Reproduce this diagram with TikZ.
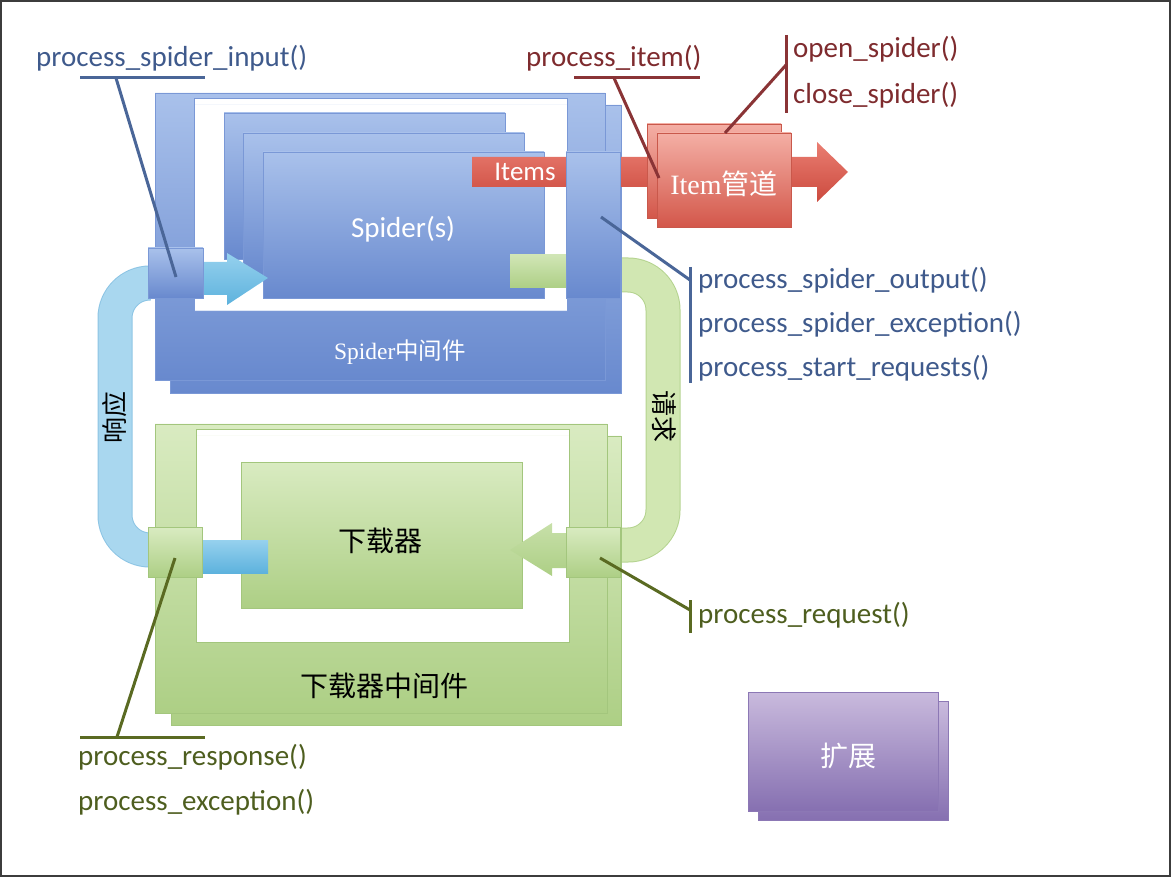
\documentclass[tikz,border=0pt]{standalone}
\usepackage{fontspec}
\setmainfont{Carlito}
\newfontfamily\serif{Liberation Serif}
\newfontfamily\cjk{Noto Sans CJK SC}
\usetikzlibrary{calc}
\definecolor{bTop}{HTML}{A9C1EB}
\definecolor{bBot}{HTML}{6889CE}
\definecolor{bEdge}{HTML}{7A98D6}
\definecolor{gTop}{HTML}{D9EBC1}
\definecolor{gBot}{HTML}{ADCF85}
\definecolor{gEdge}{HTML}{A3C67D}
\definecolor{rTop}{HTML}{F4AFA5}
\definecolor{rBot}{HTML}{D3574A}
\definecolor{rEdge}{HTML}{C9584B}
\definecolor{iTop}{HTML}{EA7E72}
\definecolor{iBot}{HTML}{CC4A3E}
\definecolor{pTop}{HTML}{C9BADD}
\definecolor{pBot}{HTML}{8670B1}
\definecolor{pEdge}{HTML}{8C78B5}
\definecolor{lbTop}{HTML}{96D1EE}
\definecolor{lbBot}{HTML}{5DB2DD}
\definecolor{band}{HTML}{A9D7EF}
\definecolor{bandEdge}{HTML}{8CC4E4}
\definecolor{gband}{HTML}{D1E7B2}
\definecolor{gbandEdge}{HTML}{B4D38F}
\definecolor{tBlue}{HTML}{3F5A8C}
\definecolor{tRed}{HTML}{7E2B2E}
\definecolor{tGreen}{HTML}{4E5E1F}
\definecolor{lBlue}{HTML}{4A6698}
\definecolor{lRed}{HTML}{8A3436}
\definecolor{lGreen}{HTML}{5A6A22}
\definecolor{frameC}{HTML}{3C3C3C}
\tikzset{
  box/.style={anchor=north west, inner sep=0pt, outer sep=0pt},
  bluebox/.style={top color=bTop, bottom color=bBot, draw=bEdge, line width=0.8pt},
  greenbox/.style={top color=gTop, bottom color=gBot, draw=gEdge, line width=0.8pt},
  redbox/.style={top color=rTop, bottom color=rBot, draw=rEdge, line width=0.8pt},
  purplebox/.style={top color=pTop, bottom color=pBot, draw=pEdge, line width=0.8pt},
  lbl/.style={anchor=base west, inner sep=0pt, font=\fontsize{29}{34}\selectfont},
  whitetxt/.style={text=white, inner sep=0pt},
  cjktxt/.style={inner sep=0pt, font=\fontsize{28}{32}\selectfont\cjk},
  leadB/.style={draw=lBlue, line width=3pt},
  leadR/.style={draw=lRed, line width=3pt},
  leadG/.style={draw=lGreen, line width=3pt},
}
\begin{document}
\begin{tikzpicture}[x=1pt,y=-1pt]
\useasboundingbox (0,0) rectangle (1171,877);
\draw[draw=frameC, line width=2pt] (1,1) rectangle (1170,876);

% response band (blue) and request band (green)
\draw[bandEdge, line width=35pt, rounded corners=35pt] (150,283) -- (115,283) -- (115,550) -- (150,550);
\draw[band, line width=33pt, rounded corners=35pt] (150,283) -- (115,283) -- (115,550) -- (150,550);
\draw[gbandEdge, line width=35pt, rounded corners=35pt] (618,275) -- (663,275) -- (663,545) -- (618,545);
\draw[gband, line width=33pt, rounded corners=35pt] (618,275) -- (663,275) -- (663,545) -- (618,545);
\node[cjktxt, rotate=90, font=\fontsize{26}{30}\selectfont\cjk] (resp) at (115,417) {响应};
\node[cjktxt, rotate=-90, font=\fontsize{26}{30}\selectfont\cjk] (req) at (664,417) {请求};

% Spider middleware frame (back and front)
\shade[even odd rule, top color=bTop, bottom color=bBot] (170,105) rectangle (621,393) (194,105) rectangle (567,311);
\draw[bEdge, line width=0.8pt] (605,105) -- (621,105) -- (621,393) -- (170,393) -- (170,380);
\shade[even odd rule, top color=bTop, bottom color=bBot] (155,93) rectangle (605,380) (194,98) rectangle (567,311);
\draw[bEdge, line width=0.8pt, even odd rule] (155,93) rectangle (605,380) (194,98) rectangle (567,311);
\node[whitetxt, font=\fontsize{23.5}{28}\selectfont] (spmw) at (400,352) {{\serif Spider}{\cjk 中间件}};

% Spiders
\node[box, bluebox, minimum width=281pt, minimum height=146pt] (sp1) at (224,113) {};
\node[box, bluebox, minimum width=281pt, minimum height=146pt] (sp2) at (243,133) {};
\node[box, bluebox, minimum width=281pt, minimum height=146pt] (sp3) at (263,152) {};
\node[whitetxt, font=\fontsize{29}{34}\selectfont] (sptxt) at (403,229) {Spider(s)};

% green request bar leaving spiders
\node[box, top color=gTop!80!gBot, bottom color=gBot, minimum width=57pt, minimum height=33pt] (gbar) at (510,255) {};

% Items arrow
\shade[top color=iTop, bottom color=iBot] (472,157) -- (817,157) -- (817,142) -- (848,172) -- (817,202) -- (817,187) -- (472,187) -- cycle;
\node[whitetxt, font=\fontsize{27}{32}\selectfont] (items) at (525,172) {Items};

% output box
\node[box, bluebox, minimum width=54pt, minimum height=146pt] (outbox) at (566,152) {};

% input arrow and input box
\shade[top color=lbTop, bottom color=lbBot] (200,262) -- (227,262) -- (227,253) -- (268,278) -- (227,305) -- (227,295) -- (200,295) -- cycle;
\node[box, bluebox, minimum width=55pt, minimum height=50pt] (inbox) at (148,248) {};

% Item pipeline
\node[box, redbox, minimum width=134pt, minimum height=94pt] (pipeB) at (647,124) {};
\node[box, redbox, minimum width=134pt, minimum height=94pt] (pipe) at (657,133) {};
\node[whitetxt, font=\fontsize{28}{32}\selectfont] (pipetxt) at (724,184) {{\serif Item}{\cjk 管道}};

% Downloader middleware frame
\shade[even odd rule, top color=gTop, bottom color=gBot] (171,436) rectangle (621,725) (196,436) rectangle (569,642);
\draw[gEdge, line width=0.8pt] (607,436) -- (621,436) -- (621,725) -- (171,725) -- (171,713);
\shade[even odd rule, top color=gTop, bottom color=gBot] (155,424) rectangle (607,713) (196,429) rectangle (569,642);
\draw[gEdge, line width=0.8pt, even odd rule] (155,424) rectangle (607,713) (196,429) rectangle (569,642);
\node[cjktxt] (dlmw) at (384,686) {下载器中间件};

% Downloader
\node[box, greenbox, minimum width=281pt, minimum height=146pt] (dl) at (241,462) {};
\node[cjktxt] (dltxt) at (380,541) {下载器};

% blue response bar, green request arrow
\node[box, top color=lbTop, bottom color=lbBot, minimum width=66pt, minimum height=33pt] (bbar) at (202,540) {};
\shade[top color=gTop!60!gBot, bottom color=gBot] (568,533) -- (552,533) -- (552,523) -- (510,550) -- (552,576) -- (552,568) -- (568,568) -- cycle;
\node[box, greenbox, minimum width=54pt, minimum height=50pt] (respbox) at (148,527) {};
\node[box, greenbox, minimum width=54pt, minimum height=50pt] (reqbox) at (566,527) {};

% Extensions
\node[box, purplebox, minimum width=190pt, minimum height=119pt] (extB) at (758,701) {};
\node[box, purplebox, minimum width=190pt, minimum height=119pt] (ext) at (748,692) {};
\node[cjktxt, text=white] (exttxt) at (848,756) {扩展};

% Labels
\node[lbl, text=tBlue] (lin) at (36,67) {process\_spider\_input()};
\node[lbl, text=tRed] (litem) at (526,67) {process\_item()};
\node[lbl, text=tRed] (lopen) at (793,58) {open\_spider()};
\node[lbl, text=tRed] (lclose) at (793,104) {close\_spider()};
\node[lbl, text=tBlue] (lout) at (698,289) {process\_spider\_output()};
\node[lbl, text=tBlue] (lexc) at (698,333) {process\_spider\_exception()};
\node[lbl, text=tBlue] (lstart) at (698,377) {process\_start\_requests()};
\node[lbl, text=tGreen] (lreq) at (698,623) {process\_request()};
\node[lbl, text=tGreen] (lresp) at (78,765) {process\_response()};
\node[lbl, text=tGreen] (ldexc) at (78,810) {process\_exception()};

% Leaders
\coordinate (inU1) at (80,78); \coordinate (inU2) at (205,78); \coordinate (inK) at (116,78); \coordinate (inE) at (176,277);
\draw[leadB] (inU1) -- (inU2); \draw[leadB] (inK) -- (inE);
\coordinate (itU1) at (574,78); \coordinate (itU2) at (700,78); \coordinate (itK) at (614,78); \coordinate (itE) at (659,178);
\draw[leadR] (itU1) -- (itU2); \draw[leadR] (itK) -- (itE);
\coordinate (ocB1) at (786,35); \coordinate (ocB2) at (786,113); \coordinate (ocK) at (786,65); \coordinate (ocE) at (725,133);
\draw[leadR] (ocB1) -- (ocB2); \draw[leadR] (ocK) -- (ocE);
\coordinate (soB1) at (690,267); \coordinate (soB2) at (690,383); \coordinate (soK) at (690,280); \coordinate (soE) at (601,217);
\draw[leadB] (soB1) -- (soB2); \draw[leadB] (soK) -- (soE);
\coordinate (rqB1) at (690,600); \coordinate (rqB2) at (690,633); \coordinate (rqK) at (690,610); \coordinate (rqE) at (600,558);
\draw[leadG] (rqB1) -- (rqB2); \draw[leadG] (rqK) -- (rqE);
\coordinate (rsU1) at (80,737); \coordinate (rsU2) at (205,737); \coordinate (rsK) at (117,737); \coordinate (rsE) at (175,558);
\draw[leadG] (rsU1) -- (rsU2); \draw[leadG] (rsK) -- (rsE);
\end{tikzpicture}
\end{document}
